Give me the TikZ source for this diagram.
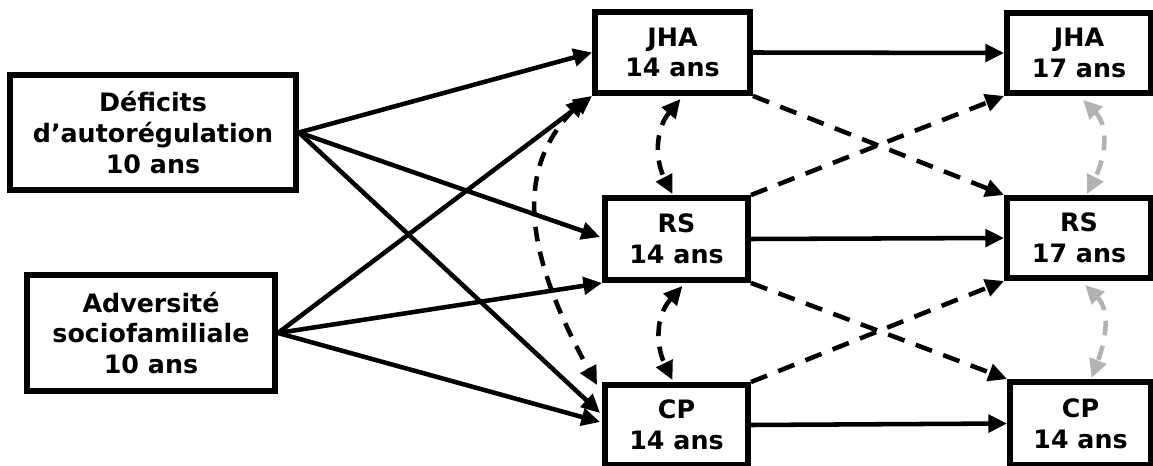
\documentclass[tikz,border=0pt]{standalone}
\usepackage{fontspec}
\setmainfont{DejaVu Sans}
\usetikzlibrary{arrows.meta,calc}
\definecolor{lgray}{RGB}{178,178,178}
\begin{document}
\begin{tikzpicture}[x=0.75pt,y=-0.75pt,
  box/.style={draw, line width=4.4pt, rectangle, align=center, inner sep=0pt,
    font=\bfseries\fontsize{19pt}{23pt}\selectfont},
  tipA/.tip={Triangle[length=14pt,width=13pt]},
  arr/.style={line width=3.4pt, -{tipA}},
  dasharr/.style={line width=3.4pt, dash pattern=on 13pt off 9pt, -{tipA}},
  dbl/.style={line width=3.4pt, dash pattern=on 11pt off 8pt, {tipA}-{tipA}},
  gdbl/.style={dbl, draw=lgray, color=lgray}
]
\useasboundingbox (0,0) rectangle (1153,466);

\node[box, minimum width=286*0.75pt, minimum height=115*0.75pt] (def) at (153,132.5) {Déficits\\d’autorégulation\\10 ans};
\node[box, minimum width=248*0.75pt, minimum height=116*0.75pt] (adv) at (151,333) {Adversité\\sociofamiliale\\10 ans};

\node[box, minimum width=155*0.75pt, minimum height=81*0.75pt] (jha14) at (672.5,52.5) {JHA\\14 ans};
\node[box, minimum width=143*0.75pt, minimum height=82*0.75pt] (rs14) at (676.5,239) {RS\\14 ans};
\node[box, minimum width=143*0.75pt, minimum height=80*0.75pt] (cp14) at (676.5,425) {CP\\14 ans};

\node[box, minimum width=144*0.75pt, minimum height=80*0.75pt] (jha17) at (1079,53) {JHA\\17 ans};
\node[box, minimum width=144*0.75pt, minimum height=80*0.75pt] (rs17) at (1079,238) {RS\\17 ans};
\node[box, minimum width=141*0.75pt, minimum height=83*0.75pt] (cp17) at (1080.5,423.5) {CP\\14 ans};

% solid paths from time 10
\draw[arr] (def.east) -- (jha14.west);
\draw[arr] (def.east) -- ($(rs14.west)+(-2,-2)$);
\draw[arr] (def.east) -- ($(cp14.west)+(-2,-12)$);
\draw[arr] (adv.east) -- (jha14.south west);
\draw[arr] (adv.east) -- (rs14.south west);
\draw[arr] (adv.east) -- ($(cp14.west)+(-2,-3)$);

% stability paths
\draw[arr] (jha14.east) -- (jha17.west);
\draw[arr] (rs14.east) -- (rs17.west);
\draw[arr] (cp14.east) -- (cp17.west);

% cross-lagged paths
\draw[dasharr] (jha14.south east) -- (rs17.north west);
\draw[dasharr] (rs14.north east) -- (jha17.south west);
\draw[dasharr] (rs14.south east) -- (cp17.north west);
\draw[dasharr] (cp14.north east) -- (rs17.south west);

% correlations at 14
\draw[dbl] ($(jha14.south)+(8,3)$) .. controls +(-25,30) and +(-18,-35) .. ($(rs14.north)+(-4,-1)$);
\draw[dbl] ($(rs14.south)+(6,3)$) .. controls +(-27,30) and +(-17,-35) .. ($(cp14.north)+(-4,-2)$);
\draw[dbl] ($(jha14.south west)+(-7,2)$) .. controls +(-73,75) and +(-70,-128) .. ($(cp14.north west)+(-5,3)$);

% correlations at 17
\draw[gdbl] ($(jha17.south)+(4,4)$) .. controls +(25,25) and +(20,-40) .. ($(rs17.north)+(8,-1)$);
\draw[gdbl] ($(rs17.south)+(6,4)$) .. controls +(25,25) and +(15,-40) .. ($(cp17.north)+(11,-1)$);
\end{tikzpicture}
\end{document}
